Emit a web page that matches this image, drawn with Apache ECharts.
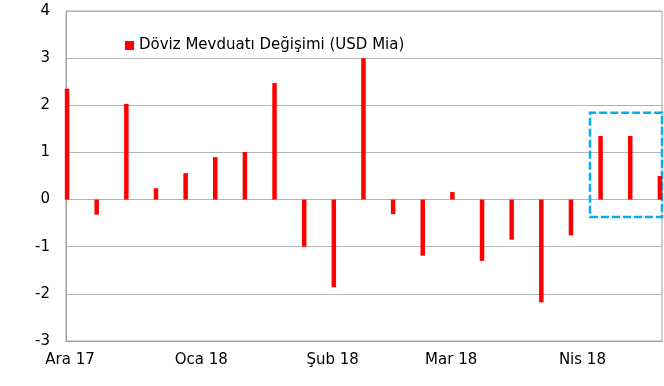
<!DOCTYPE html>
<html>
<head>
<meta charset="utf-8">
<script src="https://cdn.jsdelivr.net/npm/echarts@6/dist/echarts.min.js"></script>
<style>html,body{margin:0;padding:0;background:#fff}#c{width:664px;height:386px}</style>
</head>
<body>
<div id="c"></div>
<script>
// Weekly dates (Fridays)
var dates = ['2017-12-01','2017-12-08','2017-12-15','2017-12-22','2017-12-29',
  '2018-01-05','2018-01-12','2018-01-19','2018-01-26','2018-02-02','2018-02-09',
  '2018-02-16','2018-02-23','2018-03-02','2018-03-09','2018-03-16','2018-03-23',
  '2018-03-30','2018-04-06','2018-04-13','2018-04-20'];
var values = [2.35, -0.32, 2.03, 0.24, 0.56, 0.90, 1.01, 2.47, -1.0, -1.86, 3.0,
  -0.31, -1.19, 0.16, -1.30, -0.85, -2.18, -0.76, 1.35, 1.35, 0.50];
var seriesName = 'Döviz Mevduatı Değişimi (USD Mia)';
var monthTicks = ['2017-12-01','2018-01-01','2018-02-01','2018-03-01','2018-04-01'];
var monthNames = ['Oca','Şub','Mar','Nis','May','Haz','Tem','Ağu','Eyl','Eki','Kas','Ara'];
var yTicks = {min: -3, max: 4, interval: 1};
var xRange = {min: '2017-11-30T18:00:00Z', max: '2018-04-20T12:00:00Z'};
var highlight = {x0: '2018-04-03T12:00:00Z', x1: '2018-04-20T12:00:00Z', y0: 1.84, y1: -0.37};

function t(s) { return Date.parse(s.length === 10 ? s + 'T00:00:00Z' : s); }

var font = 'DejaVu Sans';
var chart = echarts.init(document.getElementById('c'), null, {renderer: 'canvas'});
var data = dates.map(function (d, i) { return [t(d), values[i]]; });
chart.setOption({
  animation: false,
  grid: {left: 66, right: 2, top: 11, bottom: 45, show: true, borderColor: '#a0a0a0', borderWidth: 1, containLabel: false, outerBoundsMode: 'none'},
  legend: {
    left: 120, top: 33, icon: 'rect', itemWidth: 9, itemHeight: 9, itemGap: 10,
    textStyle: {fontFamily: font, fontSize: 15, color: '#000'},
    data: [seriesName]
  },
  xAxis: {
    type: 'value',
    min: t(xRange.min), max: t(xRange.max),
    axisLine: {show: true, onZero: false, lineStyle: {color: '#a0a0a0'}},
    axisTick: {show: false},
    splitLine: {show: false},
    axisLabel: {
      customValues: monthTicks.map(t),
      fontFamily: font, fontSize: 15, color: '#000', margin: 12, padding: [0, 0, 0, 6],
      formatter: function (v) {
        var d = new Date(v);
        return monthNames[d.getUTCMonth()] + ' ' + String(d.getUTCFullYear()).slice(2);
      }
    }
  },
  yAxis: {
    type: 'value', min: yTicks.min, max: yTicks.max, interval: yTicks.interval,
    axisLine: {show: true, lineStyle: {color: '#a0a0a0'}},
    axisTick: {show: false},
    splitLine: {lineStyle: {color: '#b4b4b4', width: 1}},
    axisLabel: {fontFamily: font, fontSize: 15, color: '#000', margin: 16}
  },
  series: [{
    name: seriesName, type: 'bar', data: data, barWidth: 4.5,
    itemStyle: {color: '#ff0000'},
    markArea: {
      silent: true,
      itemStyle: {color: 'rgba(0,0,0,0)', borderColor: '#00b0f0', borderWidth: 2.5, borderType: [8, 3]},
      data: [[{xAxis: t(highlight.x0), yAxis: highlight.y0}, {xAxis: t(highlight.x1), yAxis: highlight.y1}]]
    }
  }]
});
</script>
</body>
</html>
